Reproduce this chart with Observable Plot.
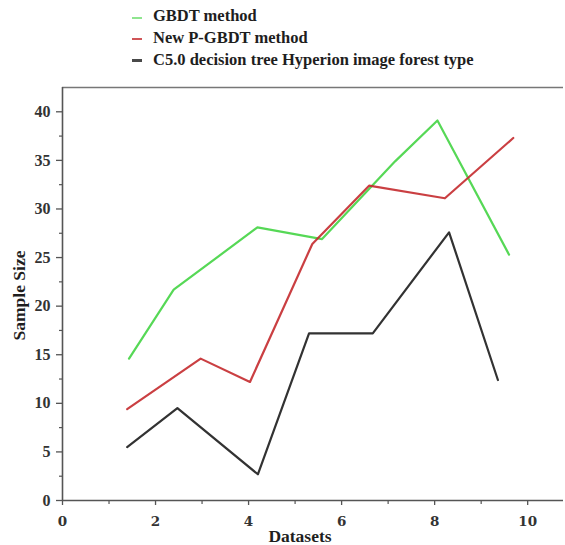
<!DOCTYPE html>
<html><head><meta charset="utf-8">
<script src="https://cdn.jsdelivr.net/npm/d3@7"></script>
<script src="https://cdn.jsdelivr.net/npm/@observablehq/plot@0.6"></script>
<style>
body{margin:0;background:#fff;}
#wrap{position:relative;width:565px;height:545px;}
#legend{position:relative;height:75px;font-family:"Liberation Serif",serif;font-weight:bold;font-size:16.5px;line-height:16.5px;color:#1e1e1e;}
.item{position:absolute;left:153px;white-space:nowrap;}
.sw{position:absolute;left:132px;width:10px;height:2px;}
#chart svg{display:block;}
</style></head><body>
<div id="wrap"><div id="legend"></div><div id="chart"></div></div>
<script>
// Series names and colours
const seriesNames = ["GBDT method", "New P-GBDT method", "C5.0 decision tree Hyperion image forest type"];
const seriesColors = ["#44d444", "#c42a2e", "#1c1c1c"];

// Values
const gbdtX  = [1.43, 2.39, 4.19, 5.58, 7.15, 8.06, 9.60];
const gbdtY  = [14.6, 21.7, 28.1, 26.9, 34.9, 39.1, 25.3];
const pgbdtX = [1.39, 2.97, 4.03, 5.37, 6.59, 8.22, 9.69];
const pgbdtY = [9.4, 14.6, 12.2, 26.4, 32.4, 31.1, 37.3];
const c50X   = [1.39, 2.47, 4.20, 5.30, 6.67, 8.31, 9.36];
const c50Y   = [5.5, 9.5, 2.7, 17.2, 17.2, 27.6, 12.4];

// Axis ticks
const xTicks = [0, 2, 4, 6, 8, 10];
const xMinor = [1, 3, 5, 7, 9];
const yTicks = [0, 5, 10, 15, 20, 25, 30, 35, 40];
const yMinor = [2.5, 7.5, 12.5, 17.5, 22.5, 27.5, 32.5, 37.5];
const xDomain = [0, 10.77];
const yDomain = [0, 42.5];

const toRows = (xs, ys, s) => xs.map((x, i) => ({x, y: ys[i], s}));
const rows = [
  ...toRows(gbdtX, gbdtY, seriesNames[0]),
  ...toRows(pgbdtX, pgbdtY, seriesNames[1]),
  ...toRows(c50X, c50Y, seriesNames[2])
];

// Legend (HTML, above the SVG)
const legend = document.getElementById("legend");
const textTops = [8, 30, 51.5];
const swTops = [17, 37.5, 59];
seriesNames.forEach((n, i) => {
  const sw = document.createElement("div");
  sw.className = "sw";
  sw.style.top = swTops[i] + "px";
  sw.style.background = seriesColors[i];
  if (i === 0) { sw.style.height = "1.5px"; sw.style.opacity = "0.6"; }
  else { sw.style.height = "2.5px"; sw.style.opacity = "0.8"; }
  legend.appendChild(sw);
  const t = document.createElement("div");
  t.className = "item";
  t.style.top = textTops[i] + "px";
  t.textContent = n;
  legend.appendChild(t);
});

const axisStroke = "#555";
const chart = Plot.plot({
  width: 565,
  height: 470,
  marginLeft: 62,
  marginRight: 2,
  marginTop: 12,
  marginBottom: 45,
  x: {domain: xDomain},
  y: {domain: yDomain},
  color: {domain: seriesNames, range: seriesColors},
  style: {background: "#fff"},
  marks: [
    Plot.ruleY([yDomain[1]], {stroke: "#777", strokeWidth: 1.6}),
    Plot.axisX({ticks: xMinor, tickSize: 4, tickFormat: () => "", label: null, stroke: axisStroke, strokeWidth: 1.2}),
    Plot.axisX({ticks: xTicks, tickSize: 5, tickPadding: 11, label: null, stroke: axisStroke, strokeWidth: 1.3,
      fontFamily: "DejaVu Serif", fontSize: 13.5, fontWeight: "bold", fill: "#333"}),
    Plot.axisY({ticks: yMinor, tickSize: 3, tickFormat: () => "", label: null, stroke: axisStroke, strokeWidth: 1.2}),
    Plot.axisY({ticks: yTicks, tickSize: 6, tickPadding: 6, label: null, stroke: axisStroke, strokeWidth: 1.3,
      fontFamily: "Liberation Serif", fontSize: 16, fontWeight: "bold", fill: "#333"}),
    Plot.ruleX([0], {stroke: axisStroke, strokeWidth: 1.6}),
    Plot.ruleY([0], {stroke: axisStroke, strokeWidth: 1.6}),
    Plot.line(rows, {x: "x", y: "y", z: "s", stroke: "s", strokeWidth: 2.2, strokeOpacity: 0.9}),
    Plot.text(["Sample Size"], {frameAnchor: "left", dx: -43.5, dy: 1.5, rotate: -90, text: d => d,
      textAnchor: "middle", lineAnchor: "middle",
      fontFamily: "Liberation Serif", fontSize: 17.5, fontWeight: "bold", fill: "#1e1e1e"}),
    Plot.text(["Datasets"], {frameAnchor: "bottom", dy: 36, dx: -13, text: d => d,
      textAnchor: "middle", lineAnchor: "middle",
      fontFamily: "Liberation Serif", fontSize: 17.5, fontWeight: "bold", fill: "#1e1e1e"})
  ]
});
document.getElementById("chart").appendChild(chart);
</script>
</body></html>
